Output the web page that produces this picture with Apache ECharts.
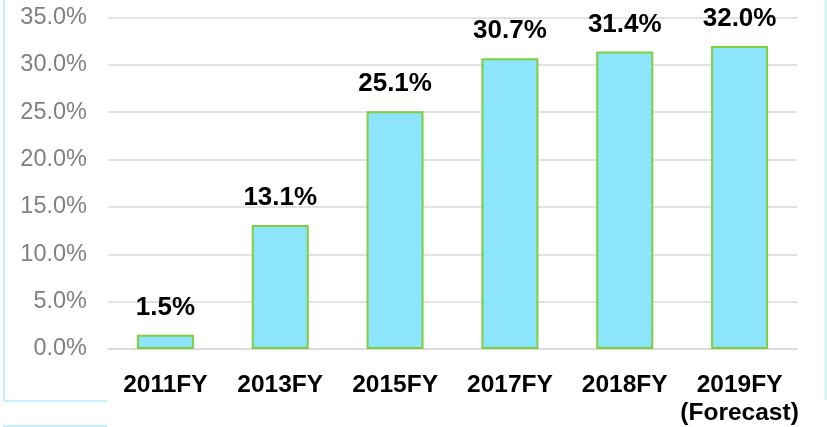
<!DOCTYPE html>
<html>
<head>
<meta charset="utf-8">
<script src="https://cdn.jsdelivr.net/npm/echarts@6/dist/echarts.min.js"></script>
<style>
html,body{margin:0;padding:0;background:#fff;}
#chart{width:827px;height:427px;}
</style>
</head>
<body>
<div id="chart"></div>
<script>
const categories = ['2011FY', '2013FY', '2015FY', '2017FY', '2018FY', '2019FY\n(Forecast)'];
const shareValues = [1.5, 13.1, 25.1, 30.7, 31.4, 32.0];
const yTicks = [0, 5, 10, 15, 20, 25, 30, 35];

const chart = echarts.init(document.getElementById('chart'), null, {renderer: 'canvas'});
const border = '#c6f1fc';
chart.setOption({
  animation: false,
  grid: {left: 108, right: 30, top: 17.5, bottom: 77.5, containLabel: false},
  xAxis: {
    type: 'category',
    data: categories,
    axisLine: {show: true, lineStyle: {color: '#d9d9d9', width: 1.5}},
    axisTick: {show: false},
    axisLabel: {
      interval: 0,
      margin: 22,
      color: '#000',
      fontFamily: 'Liberation Sans, Arial, sans-serif',
      fontWeight: 'bold',
      fontSize: 24.5,
      lineHeight: 28
    }
  },
  yAxis: {
    type: 'value',
    min: yTicks[0],
    max: yTicks[yTicks.length - 1],
    interval: 5,
    axisLine: {show: false},
    axisTick: {show: false},
    splitLine: {show: true, lineStyle: {color: '#d9d9d9', width: 1.5}},
    axisLabel: {
      margin: 21,
      color: '#808080',
      fontFamily: 'Liberation Sans, Arial, sans-serif',
      fontSize: 23.5,
      formatter: v => v.toFixed(1) + '%'
    }
  },
  series: [{
    type: 'bar',
    data: shareValues,
    barWidth: 57,
    itemStyle: {color: '#8ce5fc', borderColor: '#7dd03a', borderWidth: 2},
    label: {
      show: true,
      position: 'top',
      distance: 14,
      color: '#000',
      fontFamily: 'Liberation Sans, Arial, sans-serif',
      fontWeight: 'bold',
      fontSize: 26,
      formatter: p => p.value.toFixed(1) + '%'
    }
  }],
  graphic: [
    {type: 'line', shape: {x1: 4, y1: 0, x2: 4, y2: 401}, style: {stroke: border, lineWidth: 2}},
    {type: 'line', shape: {x1: 3, y1: 401, x2: 107, y2: 401}, style: {stroke: border, lineWidth: 2}},
    {type: 'line', shape: {x1: 3, y1: 426, x2: 107, y2: 426}, style: {stroke: border, lineWidth: 2}},
    {type: 'line', shape: {x1: 825.5, y1: 0, x2: 825.5, y2: 400}, style: {stroke: border, lineWidth: 2}}
  ]
});
</script>
</body>
</html>
